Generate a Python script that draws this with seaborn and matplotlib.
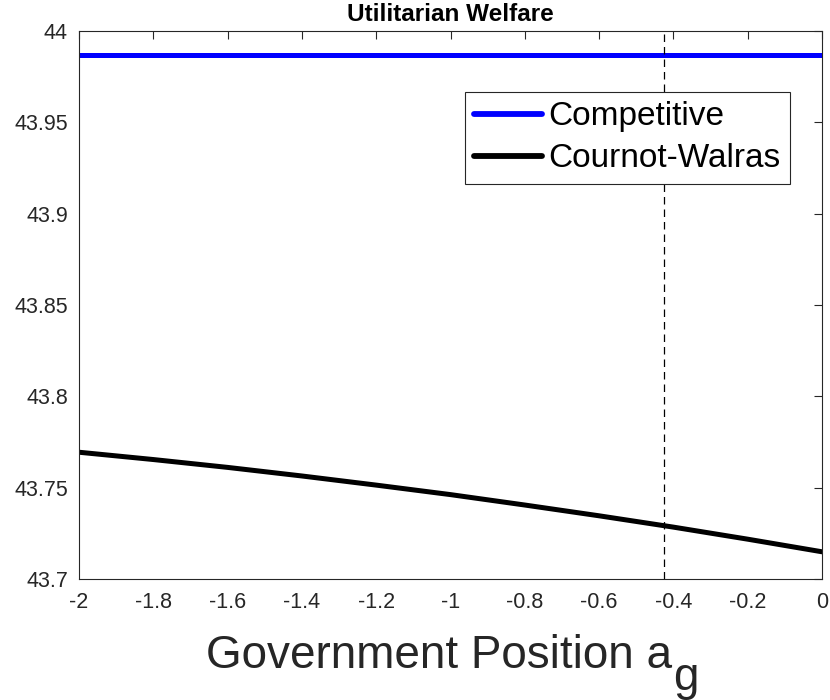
import numpy as np
import pandas as pd
import matplotlib
matplotlib.use("Agg")
import matplotlib.pyplot as plt
from matplotlib.lines import Line2D
import seaborn as sns

# Government position grid and welfare under each market structure
gov_position = [-2.0, -1.8, -1.6, -1.4, -1.2, -1.0, -0.8, -0.6, -0.4, -0.2, 0.0]
competitive = [43.9869] * len(gov_position)
cournot_walras = [43.7694, 43.7654, 43.7611, 43.7564, 43.7514, 43.7462,
                  43.7405, 43.7346, 43.7284, 43.7218, 43.7149]
benchmark_position = -0.425

x_ticks = [-2, -1.8, -1.6, -1.4, -1.2, -1, -0.8, -0.6, -0.4, -0.2, 0]
x_tick_labels = ["-2", "-1.8", "-1.6", "-1.4", "-1.2", "-1", "-0.8", "-0.6", "-0.4", "-0.2", "0"]
y_ticks = [43.7, 43.75, 43.8, 43.85, 43.9, 43.95, 44.0]
y_tick_labels = ["43.7", "43.75", "43.8", "43.85", "43.9", "43.95", "44"]

sns.set_theme(style="white")
axis_color = "#262626"
plt.rcParams["font.family"] = ["Liberation Sans", "DejaVu Sans"]

df = pd.DataFrame({
    "position": gov_position * 2,
    "welfare": competitive + cournot_walras,
    "model": ["Competitive"] * len(gov_position) + ["Cournot-Walras"] * len(gov_position),
})

fig = plt.figure(figsize=(8.3, 7.0), dpi=100)
ax = fig.add_axes([79 / 830, 121 / 700, 743 / 830, 548 / 700])

sns.lineplot(data=df, x="position", y="welfare", hue="model",
             palette={"Competitive": "#0000ff", "Cournot-Walras": "#000000"},
             linewidth=3.6, ax=ax, legend=False)

ax.axvline(benchmark_position, color="black", linewidth=0.9, linestyle=(0, (6, 4)))

ax.set_xlim(-2, 0)
ax.set_ylim(43.7, 44.0)
ax.set_xticks(x_ticks)
ax.set_xticklabels(x_tick_labels)
ax.set_yticks(y_ticks)
ax.set_yticklabels(y_tick_labels)
ax.set_xlabel("")
ax.set_ylabel("")

ax.tick_params(axis="both", which="both", direction="in", length=5.5, width=0.8,
               colors=axis_color, labelsize=15.5, top=True, right=True,
               labelcolor=axis_color)
ax.tick_params(axis="x", pad=9)
ax.tick_params(axis="y", pad=8)
for side in ["left", "right", "top", "bottom"]:
    ax.spines[side].set_visible(True)
    ax.spines[side].set_color(axis_color)
    ax.spines[side].set_linewidth(0.8)

ax.set_title("Utilitarian Welfare", fontsize=17.5, fontweight="bold", color="black", pad=7)

# Legend
handles = [Line2D([], [], color="#0000ff", linewidth=4.2),
           Line2D([], [], color="#000000", linewidth=4.2)]
leg = ax.legend(handles, ["Competitive", "Cournot-Walras"], loc="upper right",
                bbox_to_anchor=((790 - 79) / 743, (579 - 92) / 548),
                fontsize=24, frameon=True, fancybox=False, framealpha=1,
                edgecolor=axis_color, handlelength=2.05, handletextpad=0.18,
                borderpad=0.28, labelspacing=0.33, borderaxespad=0,
                labelcolor="black")
leg.get_frame().set_linewidth(0.8)

# Axis title with a full-size subscript
fig.text(672 / 830, (700 - 668) / 700, "Government Position a", ha="right",
         va="baseline", fontsize=33, color=axis_color)
fig.text(673 / 830, (700 - 690) / 700, "g", ha="left", va="baseline",
         fontsize=33, color=axis_color)

fig.savefig("out.png", dpi=100)
